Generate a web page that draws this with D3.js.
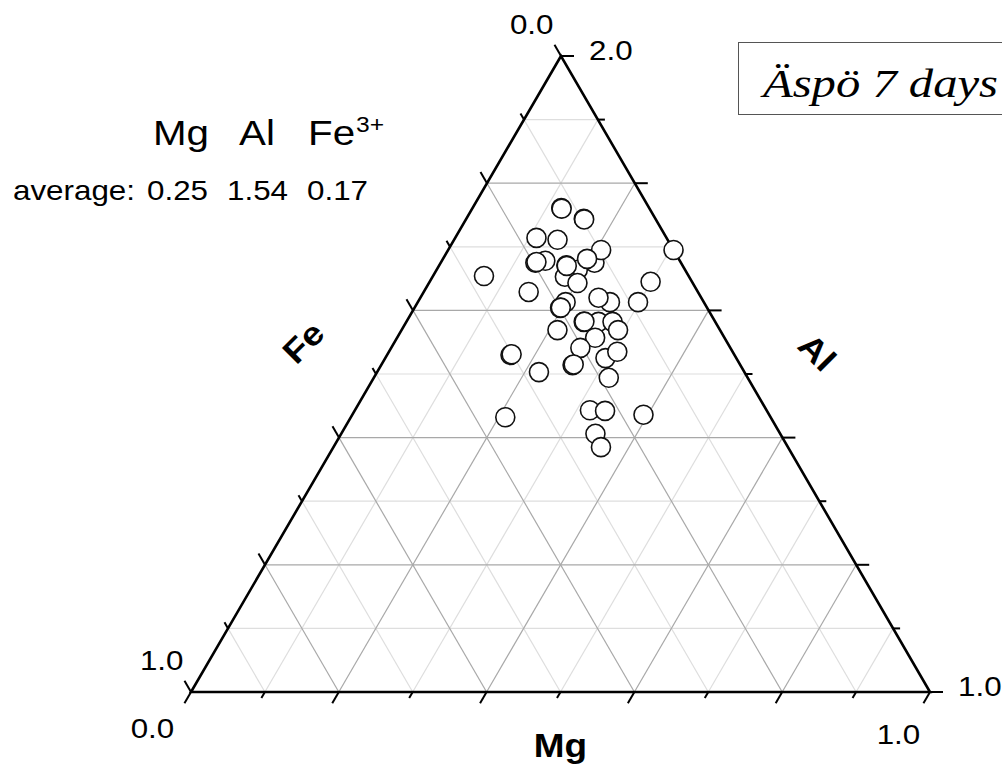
<!DOCTYPE html>
<html lang="en">
<head>
<meta charset="UTF-8">
<script src="https://cdnjs.cloudflare.com/ajax/libs/d3/7.8.5/d3.min.js"></script>
<title>Äspö 7 days</title>
<style>
    body { margin: 0; background: #fff; }
    text { font-family: "Liberation Sans", Arial, sans-serif; fill: #000; }
    .axis-title { font-weight: 700; font-size: 33px; }
    .tick-label { font-size: 28px; }
    .head { font-size: 36px; }
    .sup { font-size: 22px; }
    .avg { font-size: 28px; }
    .title { font-family: "Liberation Serif", "Times New Roman", serif; font-style: italic; font-size: 40px; }
</style>
</head>
<body>
<script>
    // analysed points (formula units)
    const mgValues = [0.120, 0.159, 0.110, 0.140, 0.140, 0.128, 0.069, 0.172, 0.191, 0.179,
                      0.201, 0.208, 0.207, 0.195, 0.305, 0.299, 0.298, 0.260, 0.241, 0.142,
                      0.200, 0.197, 0.240, 0.260, 0.279, 0.293, 0.211, 0.268, 0.256, 0.167,
                      0.259, 0.298, 0.309, 0.219, 0.318, 0.209, 0.318, 0.339, 0.394, 0.344,
                      0.362, 0.121, 0.160, 0.129, 0.173, 0.198, 0.241, 0.168, 0.260];
    const alValues = [1.761, 1.744, 1.714, 1.711, 1.678, 1.675, 1.654, 1.671, 1.664, 1.653,
                      1.643, 1.675, 1.695, 1.681, 1.695, 1.645, 1.613, 1.613, 1.620, 1.629,
                      1.613, 1.604, 1.582, 1.582, 1.582, 1.569, 1.569, 1.557, 1.541, 1.530,
                      1.514, 1.525, 1.535, 1.503, 1.494, 1.432, 1.443, 1.442, 1.436, 1.406,
                      1.385, 1.760, 1.743, 1.676, 1.670, 1.605, 1.583, 1.531, 1.515];
    const feValues = [0.119, 0.097, 0.176, 0.149, 0.182, 0.197, 0.277, 0.157, 0.145, 0.168,
                      0.156, 0.117, 0.098, 0.124, 0.000, 0.056, 0.089, 0.127, 0.139, 0.229,
                      0.187, 0.199, 0.178, 0.158, 0.139, 0.138, 0.220, 0.175, 0.203, 0.303,
                      0.227, 0.177, 0.156, 0.278, 0.188, 0.359, 0.239, 0.219, 0.170, 0.250,
                      0.253, 0.119, 0.097, 0.195, 0.157, 0.198, 0.177, 0.301, 0.225];

    const averageNames = ['Mg', 'Al', 'Fe'];
    const averageValues = ['0.25', '1.54', '0.17'];
    const title = 'Äspö 7 days';

    const width = 1002;
    const height = 768;
    const stretch = 1.12; // text in the figure is slightly wide
    const cTop = [561, 56], cLeft = [191, 692], cRight = [930, 692];
    const majorTick = 13, minorTick = 7;

    const points = mgValues.map(function(m, i) {
        return { mg: m, al: alValues[i], fe: feValues[i] };
    });

    // one scale per axis, all mapped to a fraction 0..1
    const mgScale = d3.scaleLinear().domain([0, 1]).range([0, 1]);
    const alScale = d3.scaleLinear().domain([1, 2]).range([0, 1]);
    const feScale = d3.scaleLinear().domain([0, 1]).range([0, 1]);

    // barycentric -> pixel (m: right corner, a: top corner, f: left corner)
    function project(m, a, f) {
        const s = m + a + f;
        return [
            (cRight[0] * m + cTop[0] * a + cLeft[0] * f) / s,
            (cRight[1] * m + cTop[1] * a + cLeft[1] * f) / s
        ];
    }

    function unit(p, q) {
        const dx = q[0] - p[0], dy = q[1] - p[1];
        const l = Math.sqrt(dx * dx + dy * dy);
        return [dx / l, dy / l];
    }

    const ticks = feScale.ticks(10);
    const isMajor = function(t) { return Math.round(t * 10) % 2 === 0; };

    const svg = d3.select('body').append('svg')
        .attr('width', width)
        .attr('height', height);

    // grid
    const gridData = [];
    ticks.filter(function(t) { return t > 0 && t < 1; }).forEach(function(t) {
        gridData.push({ major: isMajor(t), a: project(0, t, 1 - t), b: project(1 - t, t, 0) });
        gridData.push({ major: isMajor(t), a: project(t, 0, 1 - t), b: project(t, 1 - t, 0) });
        gridData.push({ major: isMajor(t), a: project(1 - t, 0, t), b: project(0, 1 - t, t) });
    });
    gridData.sort(function(p, q) { return p.major - q.major; });

    svg.append('g').attr('class', 'grid')
        .selectAll('line')
        .data(gridData)
        .enter().append('line')
        .attr('x1', function(d) { return d.a[0]; })
        .attr('y1', function(d) { return d.a[1]; })
        .attr('x2', function(d) { return d.b[0]; })
        .attr('y2', function(d) { return d.b[1]; })
        .attr('stroke', function(d) { return d.major ? '#a8a8a8' : '#dedede'; })
        .attr('stroke-width', 1.2);

    // axes: ticks
    const axes = [
        { name: 'Fe', scale: feScale, at: function(f) { return project(0, 1 - f, f); }, dir: unit(cRight, cTop) },
        { name: 'Mg', scale: mgScale, at: function(m) { return project(m, 0, 1 - m); }, dir: unit(cTop, cLeft) },
        { name: 'Al', scale: alScale, at: function(a) { return project(1 - a, a, 0); }, dir: [1, 0] }
    ];

    const tickData = [];
    axes.forEach(function(ax) {
        ticks.forEach(function(t) {
            const p = ax.at(t);
            const len = isMajor(t) ? majorTick : minorTick;
            tickData.push({ p: p, q: [p[0] + ax.dir[0] * len, p[1] + ax.dir[1] * len] });
        });
    });

    svg.append('g').attr('class', 'ticks')
        .selectAll('line')
        .data(tickData)
        .enter().append('line')
        .attr('x1', function(d) { return d.p[0]; })
        .attr('y1', function(d) { return d.p[1]; })
        .attr('x2', function(d) { return d.q[0]; })
        .attr('y2', function(d) { return d.q[1]; })
        .attr('stroke', '#000')
        .attr('stroke-width', 2);

    svg.append('path')
        .attr('d', 'M' + cTop + 'L' + cLeft + 'L' + cRight + 'Z')
        .attr('fill', 'none')
        .attr('stroke', '#000')
        .attr('stroke-width', 2.6)
        .attr('stroke-linejoin', 'miter');

    // text helper, stretched horizontally
    function label(x, y, txt, cls, anchor) {
        return svg.append('text')
            .attr('class', cls)
            .attr('transform', 'translate(' + x + ',' + y + ') scale(' + stretch + ',1)')
            .attr('text-anchor', anchor || 'start')
            .text(txt);
    }

    const fmt = d3.format('.1f');

    // tick labels at the ends of each axis
    feScale.domain().forEach(function(v) {
        const p = axes[0].at(feScale(v));
        const tip = [p[0] + axes[0].dir[0] * majorTick, p[1] + axes[0].dir[1] * majorTick];
        label(tip[0] - 1, tip[1] - 10.5, fmt(v), 'tick-label', 'end');
    });
    mgScale.domain().forEach(function(v) {
        const p = axes[1].at(mgScale(v));
        const tip = [p[0] + axes[1].dir[0] * majorTick, p[1] + axes[1].dir[1] * majorTick];
        label(tip[0] - 32 + 7 * v, tip[1] + 35 + 6 * v, fmt(v), 'tick-label', 'middle');
    });
    alScale.domain().forEach(function(v) {
        const p = axes[2].at(alScale(v));
        label(p[0] + majorTick + 15, p[1] + 4, fmt(v), 'tick-label', 'start');
    });

    // axis titles
    const midLeft = project(0, 0.5, 0.5), midRight = project(0.5, 0.5, 0), midBottom = project(0.5, 0, 0.5);
    svg.append('text').attr('class', 'axis-title')
        .attr('transform', 'translate(' + (midLeft[0] - 73) + ',' + (midLeft[1] - 32) + ') rotate(-45) scale(' + stretch + ',1)')
        .attr('text-anchor', 'middle').attr('dy', '0.36em')
        .text('Fe');
    svg.append('text').attr('class', 'axis-title')
        .attr('transform', 'translate(' + (midRight[0] + 72) + ',' + (midRight[1] - 22) + ') rotate(45) scale(' + stretch + ',1)')
        .attr('text-anchor', 'middle').attr('dy', '0.36em')
        .text('Al');
    label(midBottom[0], midBottom[1] + 65, 'Mg', 'axis-title', 'middle');

    // data points
    svg.append('g').attr('class', 'points')
        .selectAll('circle')
        .data(points)
        .enter().append('circle')
        .attr('cx', function(d) { return project(mgScale(d.mg), alScale(d.al), feScale(d.fe))[0]; })
        .attr('cy', function(d) { return project(mgScale(d.mg), alScale(d.al), feScale(d.fe))[1]; })
        .attr('r', 9.5)
        .attr('fill', '#fff')
        .attr('stroke', '#111')
        .attr('stroke-width', 1.6);

    // average composition
    const headX = [153, 239, 308];
    const valX = [147, 227, 307];
    averageNames.forEach(function(n, i) {
        label(headX[i], 145, n, 'head');
    });
    label(356, 132, '3+', 'sup');
    label(13, 200, 'average:', 'avg');
    averageValues.forEach(function(v, i) {
        label(valX[i], 200, v, 'avg');
    });

    // title box
    svg.append('rect')
        .attr('x', 738.5).attr('y', 42.5)
        .attr('width', 300).attr('height', 72)
        .attr('fill', '#fff')
        .attr('stroke', '#555')
        .attr('stroke-width', 1);
    svg.append('text')
        .attr('class', 'title')
        .attr('x', 763).attr('y', 97)
        .attr('textLength', 235)
        .attr('lengthAdjust', 'spacingAndGlyphs')
        .text(title);
</script>
</body>
</html>
